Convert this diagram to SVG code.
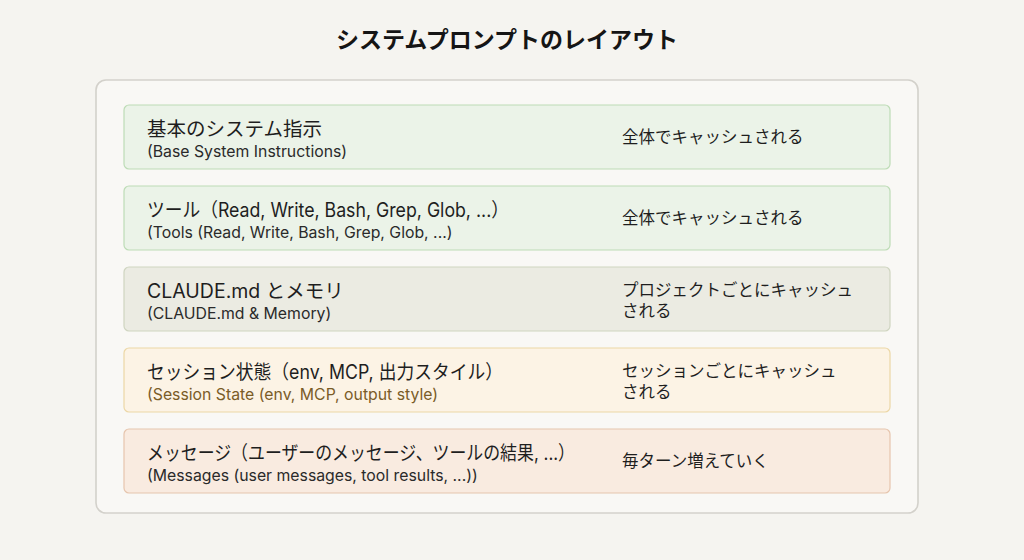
<svg xmlns="http://www.w3.org/2000/svg" width="1024" height="560" viewBox="0 0 1024 560">
<style>
.t{font-family:"Inter","Noto Sans CJK JP",sans-serif;fill:#1e1e1e}
.title{font-size:23px;font-weight:700;fill:#151515}
.main{font-size:19.5px}
.sub{font-size:15.8px;fill:#2a2a2a}
.side{font-size:16.5px}
.row{stroke-width:1.2}
</style>
<rect width="1024" height="560" fill="#f5f4f0"/>
<text class="t title" x="507" y="48" text-anchor="middle">システムプロンプトのレイアウト</text>
<g id="container"><rect x="96" y="80" width="822" height="433" rx="10" fill="#f9f8f5" stroke="#d3d1cb" stroke-width="1.6"/></g>
<g id="row1">
<rect class="row" x="124" y="105" width="766" height="64" rx="5" fill="#ebf3e8" stroke="#bddcb6"/>
<text class="t main" x="147" y="136">基本のシステム指示</text>
<text class="t sub" x="147" y="157">(Base System Instructions)</text>
<text class="t side" x="622" y="143">全体でキャッシュされる</text>
</g>
<g id="row2">
<rect class="row" x="124" y="186" width="766" height="64" rx="5" fill="#ebf3e8" stroke="#bddcb6"/>
<text class="t main" x="147" y="217" textLength="362" lengthAdjust="spacingAndGlyphs">ツール（Read, Write, Bash, Grep, Glob, ...）</text>
<text class="t sub" x="147" y="238">(Tools (Read, Write, Bash, Grep, Glob, ...)</text>
<text class="t side" x="622" y="224">全体でキャッシュされる</text>
</g>
<g id="row3">
<rect class="row" x="124" y="267" width="766" height="64" rx="5" fill="#ebebe2" stroke="#cfd5c0"/>
<text class="t main" x="147" y="298">CLAUDE.md とメモリ</text>
<text class="t sub" x="147" y="319">(CLAUDE.md &amp; Memory)</text>
<text class="t side" x="622" y="296">プロジェクトごとにキャッシュ</text>
<text class="t side" x="622" y="317">される</text>
</g>
<g id="row4">
<rect class="row" x="124" y="348" width="766" height="64" rx="5" fill="#fcf3e5" stroke="#ecd7a6"/>
<text class="t main" x="147" y="379" textLength="356" lengthAdjust="spacingAndGlyphs">セッション状態（env, MCP, 出力スタイル）</text>
<text class="t sub" x="147" y="400" style="fill:#7a5c28">(Session State (env, MCP, output style)</text>
<text class="t side" x="622" y="377">セッションごとにキャッシュ</text>
<text class="t side" x="622" y="398">される</text>
</g>
<g id="row5">
<rect class="row" x="124" y="429" width="766" height="64" rx="5" fill="#f9ebe0" stroke="#e6c5ad"/>
<text class="t main" x="147" y="460" textLength="428" lengthAdjust="spacingAndGlyphs">メッセージ（ユーザーのメッセージ、ツールの結果, ...）</text>
<text class="t sub" x="147" y="481">(Messages (user messages, tool results, ...))</text>
<text class="t side" x="622" y="467">毎ターン増えていく</text>
</g>
<g id="connectors"></g>
</svg>
